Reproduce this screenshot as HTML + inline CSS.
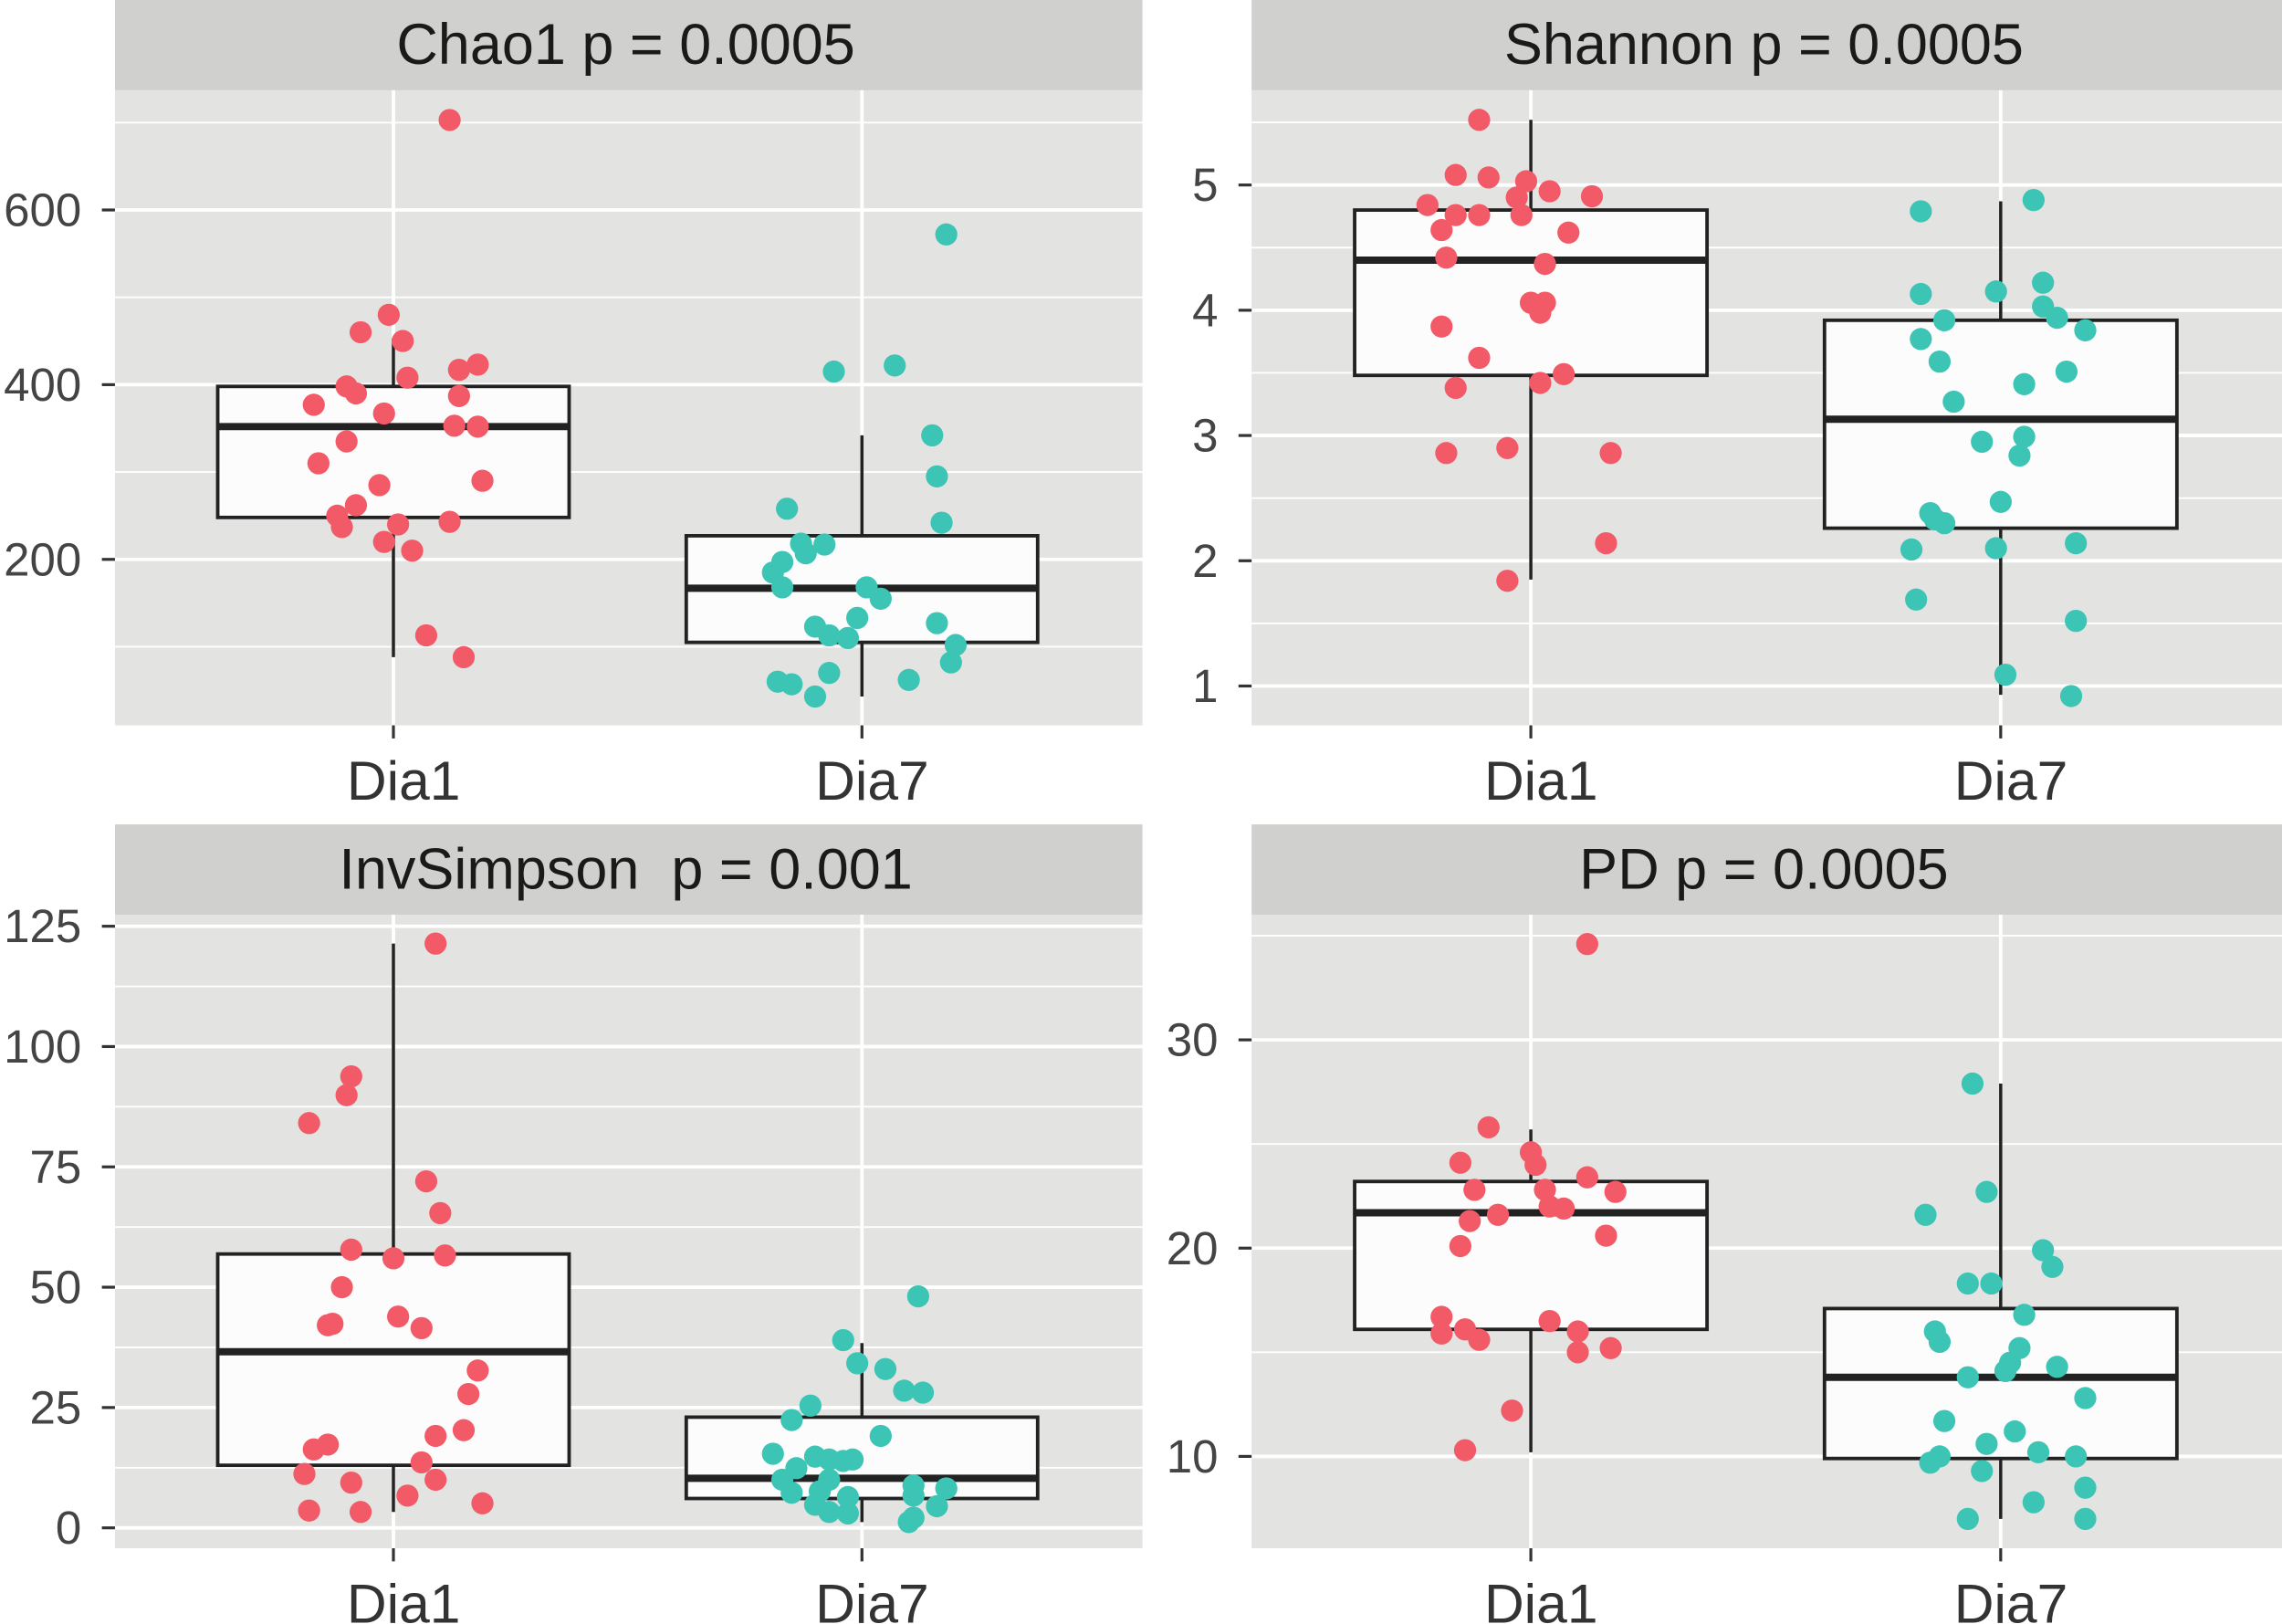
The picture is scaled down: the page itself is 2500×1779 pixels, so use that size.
<!DOCTYPE html>
<html><head><meta charset="utf-8"><style>
html,body{margin:0;padding:0;background:#fff;}
svg{display:block;}
text{font-family:"Liberation Sans",Arial,sans-serif;}
</style></head><body>
<svg id="chart" xmlns="http://www.w3.org/2000/svg" width="2500" height="1779" viewBox="0 0 1568 1115" preserveAspectRatio="none"></svg>
<script>
// Categories
const groups = ["Dia1", "Dia7"];
// Panel titles
const titles = ["Chao1 p = 0.0005", "Shannon p = 0.0005", "InvSimpson\u00a0 p = 0.001", "PD p = 0.0005"];
// Tick labels
const chaoTicks = [200, 400, 600];
const shannonTicks = [1, 2, 3, 4, 5];
const invTicks = [0, 25, 50, 75, 100, 125];
const pdTicks = [10, 20, 30];
const chaoMinor = [100, 300, 500, 700];
const shannonMinor = [1.5, 2.5, 3.5, 4.5, 5.5];
const invMinor = [12.5, 37.5, 62.5, 87.5, 112.5];
const pdMinor = [15, 25, 35];
// Box stats [lowWhisker, q1, median, q3, highWhisker]
const chaoBoxDia1 = [88, 248, 352, 398, 453];
const chaoBoxDia7 = [43, 105, 167, 227, 342];
const shannonBoxDia1 = [1.85, 3.48, 4.40, 4.80, 5.52];
const shannonBoxDia7 = [0.93, 2.26, 3.13, 3.92, 4.87];
const invBoxDia1 = [3.3, 13.0, 36.6, 56.9, 121.4];
const invBoxDia7 = [1.2, 6.1, 10.3, 23.0, 38.4];
const pdBoxDia1 = [10.2, 16.1, 21.7, 23.2, 25.7];
const pdBoxDia7 = [7.0, 9.9, 13.8, 17.1, 27.9];
// Points (values) and jitter (category units)
const chaoDia1 = [703,480,460,450,398,390,377,367,408,387,417,423,335,353,352,310,290,285,262,250,237,240,243,220,210,113,88];
const chaoDia1J = [.12,-.01,-.07,.02,-.10,-.08,-.17,-.02,.03,.14,.14,.18,-.10,.13,.18,-.16,.19,-.03,-.08,-.12,-.11,.01,.12,-.02,.04,.07,.15];
const chaoDia7 = [572,422,415,342,295,258,242,218,207,217,197,185,168,168,155,123,127,113,110,133,102,82,60,57,70,62,43];
const chaoDia7J = [.18,.07,-.06,.15,.16,-.16,.17,-.13,-.12,-.08,-.17,-.19,-.17,.01,.04,-.10,.16,-.07,-.03,-.01,.20,.19,-.18,-.15,-.07,.10,-.10];
const shannonDia1 = [5.52,5.08,5.06,5.03,4.95,4.91,4.90,4.84,4.76,4.76,4.76,4.64,4.62,4.37,4.42,4.06,4.06,3.98,3.87,3.62,3.49,3.42,3.38,2.90,2.86,2.86,2.14,1.84];
const shannonDia1J = [-.11,-.16,-.09,-.01,.04,.13,-.03,-.22,-.11,-.16,-.02,-.19,.08,.03,-.18,0,.03,.02,-.19,-.11,.07,.02,-.16,-.05,-.18,.17,.16,-.05];
const shannonDia7 = [4.88,4.79,4.22,4.13,4.15,4.03,3.94,3.92,3.84,3.77,3.59,3.51,3.41,3.27,2.95,2.99,2.84,2.38,2.33,2.30,2.47,2.09,2.10,2.14,1.69,1.52,1.09,0.92];
const shannonDia7J = [.07,-.17,.09,-.17,-.01,.09,.12,-.12,.18,-.17,-.13,.14,.05,-.10,-.04,.05,.04,-.15,-.14,-.12,0,-.19,-.01,.16,-.18,.16,.01,.15];
const invDia1 = [121.4,93.8,89.9,84.1,72.0,65.4,57.8,56.0,56.6,50.0,42.1,42.4,43.9,41.5,32.7,27.8,20.3,19.1,17.3,16.3,13.6,11.2,10.0,9.4,6.7,5.1,3.6,3.3];
const invDia1J = [.09,-.09,-.10,-.18,.07,.10,-.09,0,.11,-.11,-.14,-.13,.01,.06,.18,.16,.15,.09,-.14,-.17,.06,-.19,.09,-.09,.03,.19,-.18,-.07];
const invDia7 = [48.1,39.0,33.0,34.2,28.5,28.1,25.4,22.4,19.1,15.4,14.8,14.2,14.2,13.9,12.4,10.0,10.0,8.8,8.2,7.3,7.6,6.4,4.8,6.7,4.5,3.3,3.0,2.1,1.2];
const invDia7J = [.12,-.04,.05,-.01,.09,.13,-.11,-.15,.04,-.19,-.10,-.02,-.07,-.04,-.14,-.17,-.07,.11,.18,-.15,-.09,-.03,-.10,.11,.16,-.07,-.03,.11,.10];
const pdDia1 = [34.6,25.8,24.6,24.1,24.0,23.4,22.8,22.8,22.7,22.0,21.9,21.6,21.3,20.6,20.1,16.5,16.7,16.1,16.0,15.6,15.9,15.0,15.2,12.2,10.3];
const pdDia1J = [.12,-.09,0,-.15,.01,.12,.03,-.12,.18,.04,.07,-.07,-.13,.16,-.15,.04,-.19,-.14,.10,-.11,-.19,.10,.17,-.04,-.14];
const pdDia7 = [27.9,22.7,21.6,19.9,19.1,18.3,18.3,16.8,16.0,15.5,15.2,14.5,14.3,13.8,14.1,12.8,11.7,10.2,10.6,11.2,10.0,10.0,9.7,8.5,9.3,7.8,7.0,7.0];
const pdDia7J = [-.06,-.03,-.16,.09,.11,-.02,-.07,.05,-.14,-.13,.04,.02,.12,-.07,.01,.18,-.12,.08,-.03,.03,-.13,.16,-.15,.18,-.04,.07,-.07,.18];

const NS = "http://www.w3.org/2000/svg";
const svg = document.getElementById("chart");
function mk(tag, attrs, parent){
  const e = document.createElementNS(NS, tag);
  for (const k in attrs) e.setAttribute(k, attrs[k]);
  (parent||svg).appendChild(e);
  return e;
}
const COLORS = ["#F15A66", "#3CC4B5"];

const panels = [
  {key:"chao1", x0:79, x1:785, top:62, bot:498, dom:[10,737], ticks:chaoTicks, minor:chaoMinor,
   boxes:[chaoBoxDia1, chaoBoxDia7], pts:[chaoDia1, chaoDia7], jit:[chaoDia1J, chaoDia7J]},
  {key:"shannon", x0:860, x1:1568, top:62, bot:498, dom:[0.686,5.756], ticks:shannonTicks, minor:shannonMinor,
   boxes:[shannonBoxDia1, shannonBoxDia7], pts:[shannonDia1, shannonDia7], jit:[shannonDia1J, shannonDia7J]},
  {key:"invsimpson", x0:79, x1:785, top:628, bot:1063, dom:[-4.24,127.4], ticks:invTicks, minor:invMinor,
   boxes:[invBoxDia1, invBoxDia7], pts:[invDia1, invDia7], jit:[invDia1J, invDia7J]},
  {key:"pd", x0:860, x1:1568, top:628, bot:1063, dom:[5.59,36.01], ticks:pdTicks, minor:pdMinor,
   boxes:[pdBoxDia1, pdBoxDia7], pts:[pdDia1, pdDia7], jit:[pdDia1J, pdDia7J]}
];

panels.forEach((p, pi) => {
  const g = mk("g", {});
  
  
  const y = v => p.bot - (v - p.dom[0]) / (p.dom[1] - p.dom[0]) * (p.bot - p.top);
  const w = p.x1 - p.x0;
  const x = (i, j) => p.x0 + w * (0.271 + i * 0.456) + (j||0) * w * 0.456;
  const strip = mk("rect", {x:p.x0, y:p.top-62, width:w, height:62, fill:"#D0D1CF"}, g);
  
  
  const st = mk("text", {x:p.x0 + w/2 - 2, y:p.top-18, "text-anchor":"middle", "font-size":39.5, fill:"#1a1a1a"}, g);
  st.textContent = titles[pi];
  
  
  const bg = mk("rect", {x:p.x0, y:p.top, width:w, height:p.bot-p.top, fill:"#E3E3E2"}, g);
  
  
  p.minor.forEach(v => {
    const yy = y(v); if (yy < p.top || yy > p.bot) return;
    const l = mk("line", {x1:p.x0, x2:p.x1, y1:yy, y2:yy, stroke:"#fff", "stroke-width":1.2}, g);
    
    
  });
  p.ticks.forEach(v => {
    const yy = y(v);
    const l = mk("line", {x1:p.x0, x2:p.x1, y1:yy, y2:yy, stroke:"#fff", "stroke-width":2.4}, g);
    
    
    const tk = mk("line", {x1:p.x0-9, x2:p.x0, y1:yy, y2:yy, stroke:"#333", "stroke-width":2}, g);
    
    
    const t = mk("text", {x:p.x0-23, y:yy+11, "text-anchor":"end", "font-size":32, fill:"#444"}, g);
    t.textContent = v;
    
    
  });
  groups.forEach((gname, i) => {
    const cx = x(i);
    const vl = mk("line", {x1:cx, x2:cx, y1:p.top, y2:p.bot, stroke:"#fff", "stroke-width":2.4}, g);
    
    
    const tk = mk("line", {x1:cx, x2:cx, y1:p.bot, y2:p.bot+9, stroke:"#333", "stroke-width":2}, g);
    
    
    const t = mk("text", {x:cx+7, y:p.bot+51, "text-anchor":"middle", "font-size":38, fill:"#333"}, g);
    t.textContent = gname;
    
    
    const b = p.boxes[i];
    const hw = w * 0.171;
    const wh = mk("line", {x1:cx, x2:cx, y1:y(b[0]), y2:y(b[4]), stroke:"#222", "stroke-width":2.2}, g);
    
    
    const bx = mk("rect", {x:cx-hw, y:y(b[3]), width:2*hw, height:y(b[1])-y(b[3]), fill:"#FCFCFC", stroke:"#222", "stroke-width":2.4}, g);
    
    
    const md = mk("line", {x1:cx-hw, x2:cx+hw, y1:y(b[2]), y2:y(b[2]), stroke:"#222", "stroke-width":5}, g);
    
    
  });
  groups.forEach((gname, i) => {
    p.pts[i].forEach((v, k) => {
      const c = mk("circle", {cx:x(i, p.jit[i][k]), cy:y(v), r:7.6, fill:COLORS[i]}, g);
      
      
    });
  });
});
</script>
</body></html>
